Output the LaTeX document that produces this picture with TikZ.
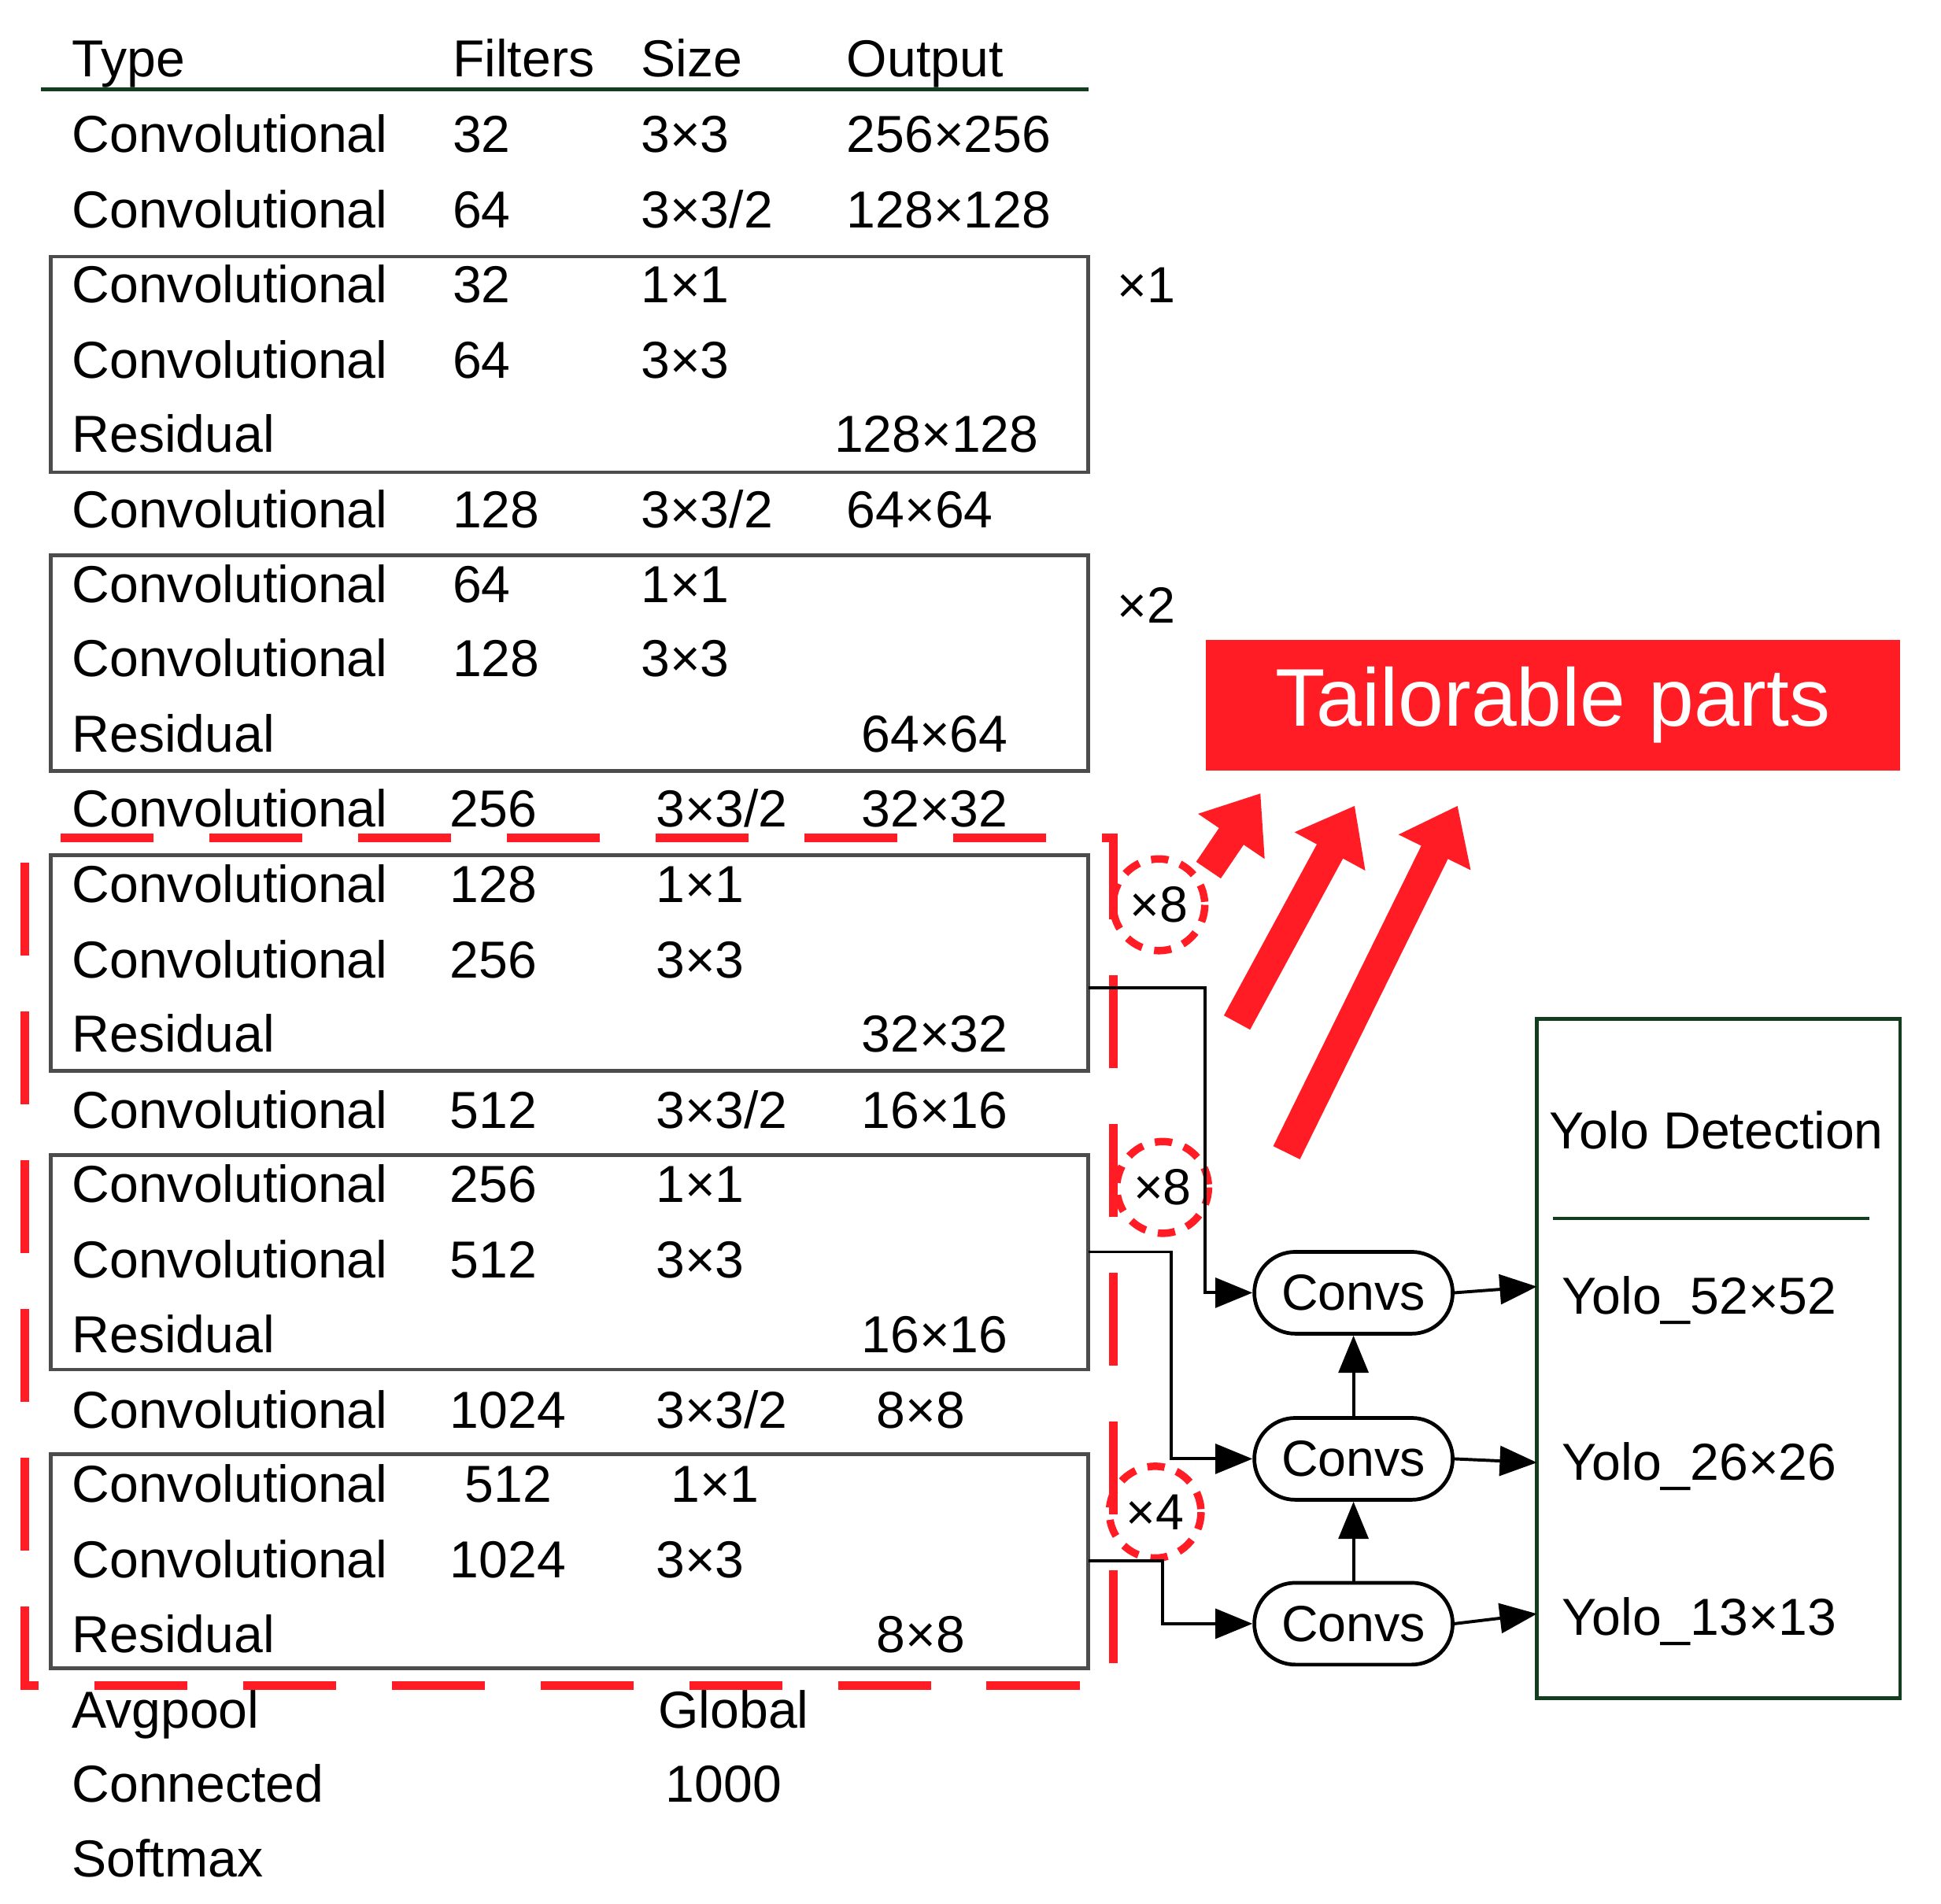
\documentclass[tikz,border=0pt]{standalone}
\usepackage{fontspec}
\setmainfont{Liberation Sans}
\usetikzlibrary{arrows.meta,positioning}
\definecolor{dgreen}{RGB}{20,60,30}
\definecolor{tred}{RGB}{255,28,36}
\tikzset{
  txt/.style={anchor=base west,inner sep=0pt,font=\fontsize{42}{50}\selectfont},
  blk/.style={draw=black!70,line width=3pt},
  rep/.style={inner sep=0pt,font=\fontsize{41}{48}\selectfont},
  conv/.style={draw,line width=3pt,rounded corners=33pt,minimum width=160pt,minimum height=66pt,font=\fontsize{41}{50}\selectfont},
  link/.style={line width=2.5pt,-{Triangle[length=30pt,width=24pt]}},
  fat/.style={tred,line width=24pt,-{Triangle[length=42pt,width=62pt]}}
}
\begin{document}
\begin{tikzpicture}[x=1pt,y=-1pt]
  \useasboundingbox (0,0) rectangle (1566,1536);
  % header
  \node[txt] (hType) at (58,62) {Type};
  \node[txt] (hFil) at (365,62) {Filters};
  \node[txt] (hSize) at (517,62) {Size};
  \node[txt] (hOut) at (683,62) {Output};
  \draw[dgreen,line width=3pt] (33,72) -- (878,72);
  % type column
  \foreach \y/\t [count=\i] in {109/Convolutional,170/Convolutional,230/Convolutional,291/Convolutional,351/Residual,
      412/Convolutional,472/Convolutional,532/Convolutional,593/Residual,653/Convolutional,714/Convolutional,
      775/Convolutional,835/Residual,896/Convolutional,956/Convolutional,1017/Convolutional,1077/Residual,
      1138/Convolutional,1198/Convolutional,1259/Convolutional,1319/Residual,1380/Avgpool,1440/Connected,1500/Softmax}
    \node[txt] (ty\i) at (58,\y+14) {\t};
  % filters
  \foreach \x/\y/\t [count=\i] in {365/109/32,365/170/64,365/230/32,365/291/64,365/412/128,365/472/64,365/532/128,
      363/653/256,363/714/128,363/775/256,363/896/512,363/956/256,363/1017/512,363/1138/1024,375/1198/512,363/1259/1024}
    \node[txt] (fi\i) at (\x,\y+14) {\t};
  % size
  \foreach \x/\y/\t [count=\i] in {517/109/3×3,517/170/{3×3/2},517/230/1×1,517/291/3×3,517/412/{3×3/2},517/472/1×1,
      517/532/3×3,529/653/{3×3/2},529/714/1×1,529/775/3×3,529/896/{3×3/2},529/956/1×1,529/1017/3×3,529/1138/{3×3/2},
      541/1198/1×1,529/1259/3×3,531/1380/Global,537/1440/1000}
    \node[txt] (si\i) at (\x,\y+14) {\t};
  % output
  \foreach \x/\y/\t [count=\i] in {683/109/256×256,683/170/128×128,673/351/128×128,683/412/64×64,695/593/64×64,
      695/653/32×32,695/835/32×32,695/896/16×16,695/1077/16×16,707/1138/8×8,707/1319/8×8}
    \node[txt] (ou\i) at (\x,\y+14) {\t};
  % residual blocks
  \draw[blk] (41,207) rectangle (878,381);
  \draw[blk] (41,448) rectangle (878,622);
  \draw[blk] (41,690) rectangle (878,864);
  \draw[blk] (41,932) rectangle (878,1105);
  \draw[blk] (41,1173) rectangle (878,1346);
  \node[rep] (x1) at (925,230) {×1};
  \node[rep] (x2) at (925,488) {×2};
  \node[rep] (x8a) at (935,730) {×8};
  \node[rep] (x8b) at (938,958) {×8};
  \node[rep] (x4) at (932,1220) {×4};
  \foreach \n in {x8a,x8b,x4}
    \draw[tred,line width=6pt,dash pattern=on 14pt off 10pt] (\n) circle (37);
  % tailorable region
  \draw[tred,line width=7pt,dash pattern=on 75pt off 45pt,dash phase=-20pt] (20,676) rectangle (898,1360);
  \node[fill=tred,minimum width=560pt,minimum height=106pt,text=white,font=\fontsize{66}{70}\selectfont] (tail) at (1253,569) {Tailorable parts};
  \coordinate (a1) at (975,702);
  \coordinate (b1) at (1017,640);
  \coordinate (a2) at (998,825);
  \coordinate (b2) at (1093,650);
  \coordinate (a3) at (1038,930);
  \coordinate (b3) at (1176,650);
  \draw[fat] (a1) -- (b1);
  \draw[fat] (a2) -- (b2);
  \draw[fat] (a3) -- (b3);
  % detection heads
  \node[conv] (cv1) at (1092,1043) {Convs};
  \node[conv] (cv2) at (1092,1177) {Convs};
  \node[conv] (cv3) at (1092,1310) {Convs};
  \coordinate (o1) at (878,797);
  \coordinate (o2) at (878,1010);
  \coordinate (o3) at (878,1259);
  \draw[link] (o1) -| (972,1043) -- (cv1.west);
  \draw[link] (o2) -| (945,1177) -- (cv2.west);
  \draw[link] (o3) -| (938,1310) -- (cv3.west);
  \draw[link] (cv3) -- (cv2);
  \draw[link] (cv2) -- (cv1);
  \draw[dgreen,line width=3pt] (1240,822) rectangle (1533,1370);
  \node[txt] (ydet) at (1250,927) {Yolo Detection};
  \draw[dgreen,line width=3pt] (1253,983) -- (1508,983);
  \node[txt] (y52) at (1260,1060) {Yolo\_52×52};
  \node[txt] (y26) at (1260,1194) {Yolo\_26×26};
  \node[txt] (y13) at (1260,1319) {Yolo\_13×13};
  \coordinate (d1) at (1240,1038);
  \coordinate (d2) at (1240,1180);
  \coordinate (d3) at (1240,1302);
  \draw[link] (cv1.east) -- (d1);
  \draw[link] (cv2.east) -- (d2);
  \draw[link] (cv3.east) -- (d3);
\end{tikzpicture}
\end{document}
